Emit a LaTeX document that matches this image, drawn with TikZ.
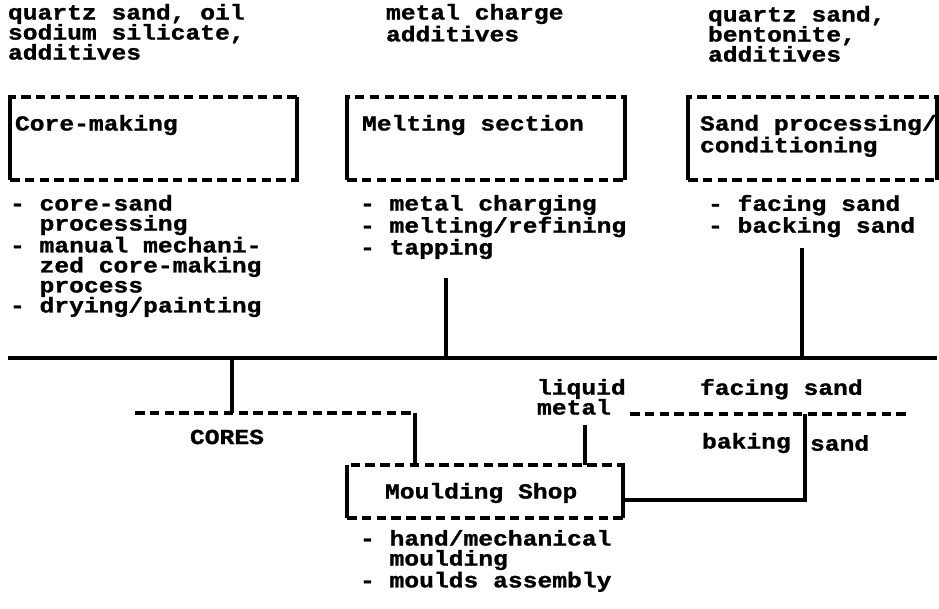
\documentclass[tikz,border=0pt]{standalone}
\usepackage{fontspec}
\newfontfamily\tw[FakeStretch=1.15,BoldFeatures={FakeBold=1.2}]{Liberation Mono}
\newcommand{\ind}{\hphantom{xx}}
\begin{document}
\begin{tikzpicture}[x=0.02cm,y=-0.02cm,inner sep=0pt,outer sep=0pt,
txt/.style={font=\tw\bfseries\fontsize{12.2}{11.4}\selectfont,align=left,anchor=north west},
frame/.style={rectangle,draw,line width=2pt,dash pattern=on 0.19cm off 0.106cm,minimum height=1.66cm},
side/.style={line width=2.6pt},
conn/.style={line width=2.6pt},
tdash/.style={line width=2pt,dash pattern=on 0.19cm off 0.106cm}]
\useasboundingbox (0,0) rectangle (939,608);

% inputs
\node[txt] (incore) at (8,4) {quartz sand, oil\\sodium silicate,\\additives};
\node[txt] (inmelt) at (386,4) {metal charge\\additives};
\node[txt] (insand) at (708,6) {quartz sand,\\bentonite,\\additives};

% sections
\node[frame,minimum width=5.74cm] (core) at (153.5,138.5) {};
\node[frame,minimum width=5.56cm] (melt) at (486,138.5) {};
\node[frame,minimum width=4.98cm] (sand) at (812.5,138.5) {};
\foreach \b in {core,melt,sand}
  \draw[side] (\b.north west) -- (\b.south west) (\b.north east) -- (\b.south east);
\node[txt] (coretxt) at (15,115) {Core-making};
\node[txt] (melttxt) at (362,115) {Melting section};
\node[txt] (sandtxt) at (700,115) {Sand processing/\\conditioning};

% operations
\node[txt] (corelist) at (10,195) {- core-sand\\\ind processing\\- manual mechani-\\\ind zed core-making\\\ind process\\- drying/painting};
\node[txt] (meltlist) at (360,195) {- metal charging\\- melting/refining\\- tapping};
\node[txt] (sandlist) at (708,195) {- facing sand\\- backing sand};

% main line
\coordinate (busl) at (8,358);
\coordinate (busr) at (937,358);
\draw[conn] (busl) -- (busr);
\coordinate (tapmelt) at (446,278);
\coordinate (tapsand) at (802,248);
\draw[conn] (tapmelt) -- (tapmelt |- busl);
\draw[conn] (tapsand) -- (tapsand |- busl);

% moulding shop
\node[frame,minimum width=5.52cm,minimum height=1.06cm] (mould) at (485,491.5) {};
\draw[side] (mould.north west) -- (mould.south west) (mould.north east) -- (mould.south east);
\node[txt,anchor=west] (mouldtxt) at (385,493) {Moulding Shop};
\node[txt] (mouldlist) at (360,530) {- hand/mechanical\\\ind moulding\\- moulds assembly};

% cores
\coordinate (coretap) at (232,358);
\coordinate (coresl) at (135,413);
\coordinate (coresr) at (415,413);
\draw[conn] (coretap) -- (coretap |- coresl);
\draw[tdash] (coresl) -- (coresr);
\draw[side] (coresr) -- (coresr |- mould.north);
\node[txt,anchor=west] (cores) at (190,437) {CORES};

% liquid metal
\node[txt] (liquid) at (537,379) {liquid\\metal};
\coordinate (liqend) at (585,425);
\draw[side] (liqend) -- (liqend |- mould.north);

% sand
\node[txt] (facing) at (700,379) {facing sand};
\coordinate (facel) at (630,414);
\coordinate (facer) at (907,414);
\coordinate (facej) at (805,414);
\coordinate (faceend) at (805,500);
\draw[tdash] (facel) -- (facer);
\node[txt,anchor=west] (baking) at (702,443) {baking};
\node[txt,anchor=west] (bsand) at (810,443) {sand};
\draw[conn] (facej) -- (faceend) -- (faceend -| mould.east);
\end{tikzpicture}
\end{document}
